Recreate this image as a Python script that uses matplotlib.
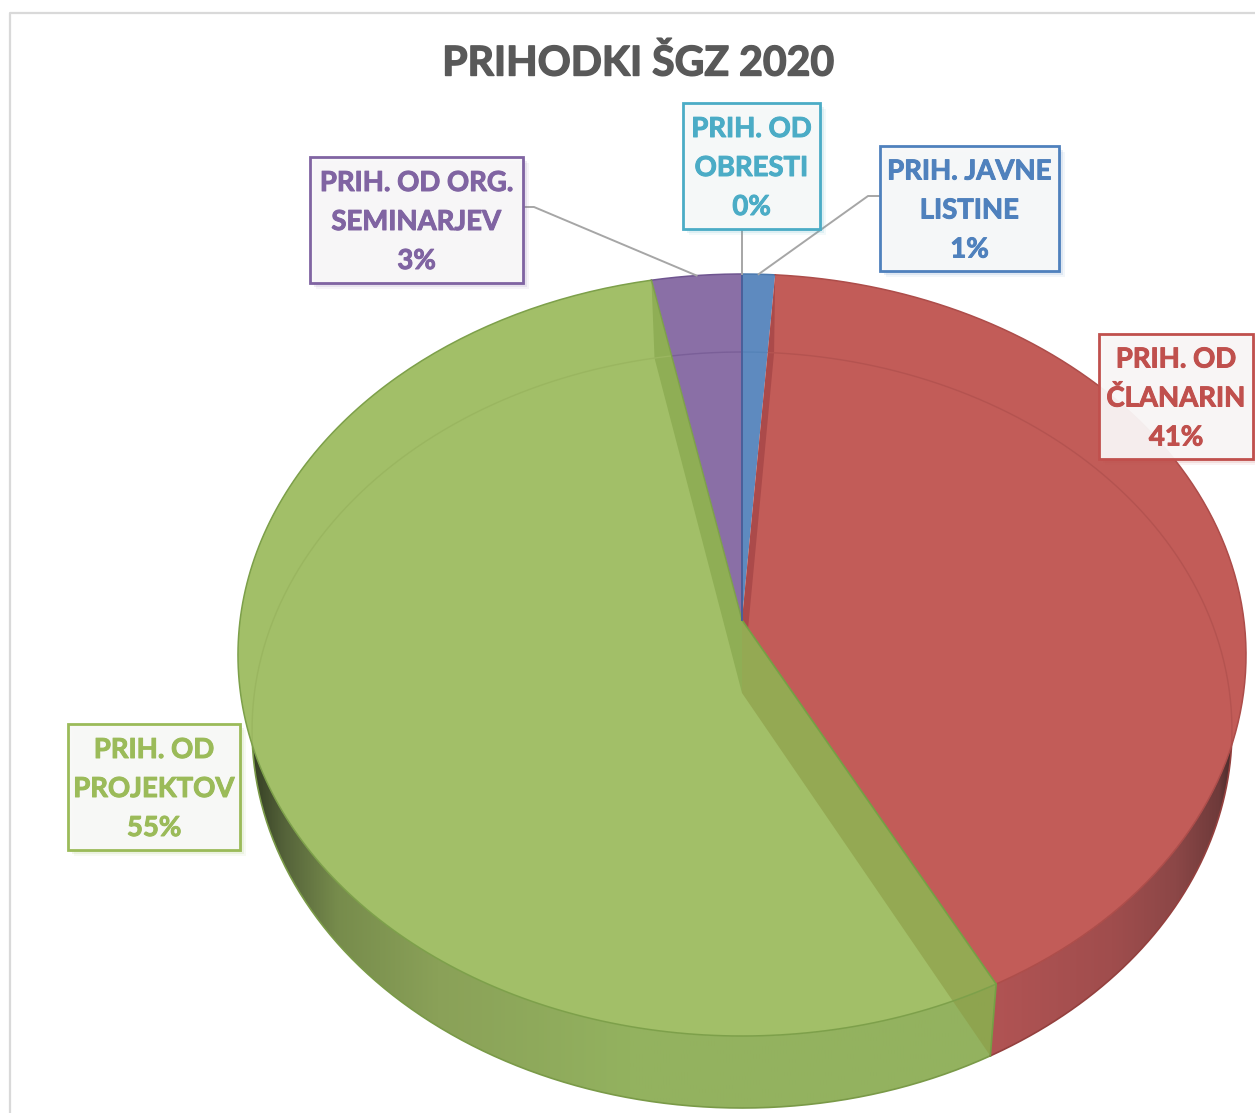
#!/usr/bin/env python3
"""3D-look pie of the 2020 income split, drawn by hand since matplotlib has no tilted pie."""
import matplotlib
matplotlib.use("Agg")
import matplotlib.pyplot as plt
import matplotlib.patheffects as pe
import numpy as np
from matplotlib.colors import LinearSegmentedColormap
from matplotlib.patches import Polygon, Rectangle

TITLE = "PRIHODKI ŠGZ 2020"
# clockwise from 12 o'clock
CATEGORIES = ["PRIH. JAVNE\nLISTINE", "PRIH. OD\nČLANARIN", "PRIH. OD\nPROJEKTOV",
              "PRIH. OD ORG.\nSEMINARJEV", "PRIH. OD\nOBRESTI"]
SHARES = [1.15, 41.15, 54.55, 3.15, 0.0]
FACE_COLORS = ["#5e8abf", "#c25c58", "#a2bf68", "#8a6fa6", "#4bacc6"]
EDGE_COLORS = ["#4a78ae", "#ad4d4a", "#7da04a", "#6f5590", "#4bacc6"]
TEXT_COLORS = ["#4f81bd", "#c0504d", "#9bbb59", "#8064a2", "#4bacc6"]
BOXES = [(880, 146, 1059, 271), (1099, 334, 1253, 459), (68, 724, 240, 850),
         (310, 157, 523, 283), (683, 103, 820, 229)]

W, H = 1255, 1113
FONT = "Lato"

# perspective disc: (centre y after projection, top y, bottom y, half width)
TOP_RIM = (620, 274, 1036, 501.9)
BASE_RIM = (693, 352, 1108, 487.6)
CX = 742


def rim(theta, geom):
    apex, top, bottom, k = geom
    # solve the vertical homography that maps the circle to the given extents
    c = (top + bottom - 2 * apex) / (bottom - top)
    a = top * (1 + c) - apex
    u, v = np.sin(theta), np.cos(theta)
    den = c * v + 1
    return CX + k * u / den, (a * v + apex) / den


def arc(t0, t1, geom, n=200):
    x, y = rim(np.linspace(t0, t1, n), geom)
    return np.column_stack([x, y])


def gradient_patch(ax, pts, x0, x1, stops):
    poly = Polygon(pts, closed=True, transform=ax.transData, fc="none", ec="none")
    ax.add_patch(poly)
    cmap = LinearSegmentedColormap.from_list("wall", stops)
    im = ax.imshow(np.linspace(0, 1, 256)[None, :], extent=(x0, x1, H, 0), cmap=cmap, aspect="auto")
    im.set_clip_path(poly)


fig = plt.figure(figsize=(W / 100, H / 100), dpi=100)
ax = fig.add_axes([0, 0, 1, 1])
ax.axis("off")

# chart frame
ax.plot([9.5, 9.5, W], [H, 12.5, 12.5], color="#d9d9d9", lw=1.6)

edges = np.cumsum([0] + SHARES) / 100 * 2 * np.pi
t_blue_end, t_red_end, t_green_end = edges[1], edges[2], edges[3]

# outer walls
green_wall = np.vstack([arc(t_red_end, np.radians(300), BASE_RIM), arc(np.radians(300), t_red_end, TOP_RIM)])
gradient_patch(ax, green_wall, 245, 1012, [(0, "#2f3820"), (0.05, "#55633a"), (0.12, "#778c4c"),
                                            (0.25, "#8aa158"), (0.5, "#93b25f"), (1, "#93b25f")])
red_wall = np.vstack([arc(np.radians(70), t_red_end, BASE_RIM), arc(t_red_end, np.radians(70), TOP_RIM)])
gradient_patch(ax, red_wall, 985, 1240, [(0, "#b25454"), (0.5, "#a04d4d"), (0.75, "#8c4747"),
                                          (0.92, "#6e3a3a"), (1, "#2e2020")])
ax.plot(*arc(t_red_end, np.radians(290), BASE_RIM).T, color="#7a9a48", lw=1.2, zorder=0.5)
ax.plot(*arc(np.radians(75), t_red_end, BASE_RIM).T, color="#94403e", lw=1.2, zorder=0.5)

# top faces
apex = np.array([CX, TOP_RIM[0]])
base_apex = np.array([CX, BASE_RIM[0]])
faces = []
for i in range(len(SHARES)):
    if SHARES[i] == 0:
        faces.append(None)
        continue
    pts = np.vstack([apex, arc(edges[i], edges[i + 1], TOP_RIM)])
    face = Polygon(pts, closed=True, fc=FACE_COLORS[i], ec="none")
    ax.add_patch(face)
    faces.append(face)

# cut walls seen through the faces
red_cut = Polygon([rim(t_blue_end, TOP_RIM), apex, base_apex, rim(t_blue_end, BASE_RIM)],
                  closed=True, fc="#ab4a4a", ec="none")
ax.add_patch(red_cut)
red_cut.set_clip_path(faces[1])

green_cut = Polygon([apex, rim(t_red_end, TOP_RIM), rim(t_red_end, BASE_RIM), base_apex],
                    closed=True, fc="#8b9b45", ec="none", alpha=0.6)
ax.add_patch(green_cut)
upper_cut = Polygon([rim(t_green_end, TOP_RIM), apex, base_apex, rim(t_green_end, BASE_RIM)],
                    closed=True, fc="#8fae55", ec="none")
ax.add_patch(upper_cut)
upper_cut.set_clip_path(faces[2])

# base outline showing through
for i, col in zip(range(4), ["#5583b8", "#b45350", "#9ab660", "#7a5f98"]):
    line, = ax.plot(*arc(0, 2 * np.pi, BASE_RIM, 500).T, color=col, lw=1.0)
    line.set_clip_path(faces[i])

# rim and slice edges
for i in range(4):
    ax.plot(*arc(edges[i], edges[i + 1], TOP_RIM).T, color=EDGE_COLORS[i], lw=1.1)
red_end_top, red_end_base = rim(t_red_end, TOP_RIM), rim(t_red_end, BASE_RIM)
ax.plot([apex[0], red_end_top[0], red_end_base[0]], [apex[1], red_end_top[1], red_end_base[1]],
        color="#74a044", lw=1.2)
green_end_top = rim(t_green_end, TOP_RIM)
ax.plot([apex[0], green_end_top[0]], [apex[1], green_end_top[1]], color="#7da04a", lw=1.0)
ax.plot([apex[0], apex[0]], [apex[1], rim(0.0, TOP_RIM)[1]], color="#4a5f9a", lw=1.4)

# leader lines
leader = dict(color="#a6a6a6", lw=1.4)
ax.plot([742, 742], [229, rim(edges[4], TOP_RIM)[1]], **leader)
mid_blue = rim((edges[0] + edges[1]) / 2, TOP_RIM)
ax.plot([880, 868, mid_blue[0]], [196, 196, mid_blue[1]], **leader)
mid_purple = rim((edges[3] + edges[4]) / 2, TOP_RIM)
ax.plot([523, 534, mid_purple[0]], [207, 207, mid_purple[1]], **leader)

# label boxes, above every line
for name, share, box, col in zip(CATEGORIES, SHARES, BOXES, TEXT_COLORS):
    x0, y0, x1, y1 = box
    for off, al in [(6, 0.07), (4, 0.12), (2, 0.2)]:
        ax.add_patch(Rectangle((x0 + off, y0 + off), x1 - x0, y1 - y0, fc=col, ec="none", alpha=al, zorder=5))
    ax.add_patch(Rectangle((x0, y0), x1 - x0, y1 - y0, fc="#fafafa", ec="none", alpha=0.93, zorder=5))
    ax.add_patch(Rectangle((x0, y0), x1 - x0, y1 - y0, fc="none", ec=col, lw=2.0, zorder=5))
    lines = name.split("\n") + [f"{share:.0f}%"]
    yc = (y0 + y1) / 2 + 2
    for j, txt in enumerate(lines):
        t = ax.text((x0 + x1) / 2, yc + (j - 1) * 39, txt, color=col, fontsize=19.8, fontweight="bold",
                    family=FONT, ha="center", va="center", zorder=6)
        t.set_path_effects([pe.withStroke(linewidth=0.7, foreground=col)])

t = ax.text(638, 64, TITLE, color="#595959", fontsize=29.5, fontweight="bold", family=FONT,
            ha="center", va="center")
t.set_path_effects([pe.withStroke(linewidth=1.0, foreground="#595959")])

ax.set_xlim(0, W)
ax.set_ylim(H, 0)
fig.savefig("out.png", dpi=100)
